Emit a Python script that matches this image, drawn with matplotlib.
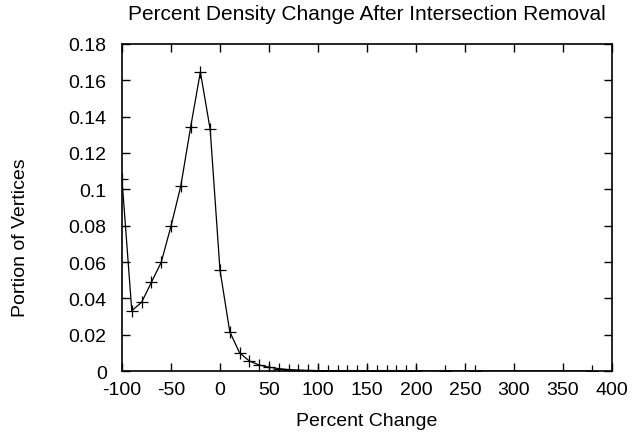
import matplotlib
matplotlib.use('Agg')
import matplotlib.pyplot as plt
from matplotlib.ticker import FuncFormatter

# percent change bins and portion of vertices
pct_change = [-100, -90, -80, -70, -60, -50, -40, -30, -20, -10, 0, 10, 20,
              30, 40, 50, 60, 70, 80, 90, 100, 110, 120, 130, 140, 150, 160,
              170, 180, 190, 200, 230, 260, 380]
portion = [0.1055, 0.0332, 0.0378, 0.0488, 0.0598, 0.0797, 0.1018, 0.1341,
           0.1646, 0.1330, 0.0556, 0.0216, 0.0100, 0.0055, 0.0033, 0.0021,
           0.0013, 0.0008, 0.0005, 0.0003, 0.0002, 0.00015, 0.0001, 0.0001,
           0.00008, 0.00006, 0.00005, 0.00004, 0.00003, 0.00003, 0.00002,
           0.00001, 0.00001, 0.000005]
x_ticks = [-100, -50, 0, 50, 100, 150, 200, 250, 300, 350, 400]
y_ticks = [0, 0.02, 0.04, 0.06, 0.08, 0.1, 0.12, 0.14, 0.16, 0.18]

plt.rcParams['font.family'] = ['Liberation Sans', 'DejaVu Sans']
plt.rcParams['font.size'] = 14
plt.rcParams['axes.unicode_minus'] = False

fig = plt.figure(figsize=(6.4, 4.35), dpi=100)
ax = fig.add_axes([0.1906, 0.1448, 0.7656, 0.7518])

ax.plot(pct_change, portion, color='black', linewidth=0.9,
        marker='+', markersize=8, markeredgewidth=0.9)

ax.set_xlim(-100, 400)
ax.set_ylim(0, 0.18)
ax.set_xticks(x_ticks)
ax.set_yticks(y_ticks)
ax.xaxis.set_major_formatter(FuncFormatter(lambda v, p: '%g' % v))
ax.yaxis.set_major_formatter(FuncFormatter(lambda v, p: '%g' % round(v, 4)))
ax.tick_params(direction='in', length=6, width=1, top=True, right=True,
               labelsize=14)
ax.tick_params(axis='y', pad=11)
ax.tick_params(axis='x', pad=7)
for s in ax.spines.values():
    s.set_linewidth(1.2)

ax.set_title('Percent Density Change After Intersection Removal',
             fontsize=15, pad=18)
ax.set_xlabel('Percent Change', fontsize=14, labelpad=10)
ax.set_ylabel('Portion of Vertices', fontsize=14)
ax.yaxis.set_label_coords(-0.19, 0.41)

fig.savefig('out.png', dpi=100)
